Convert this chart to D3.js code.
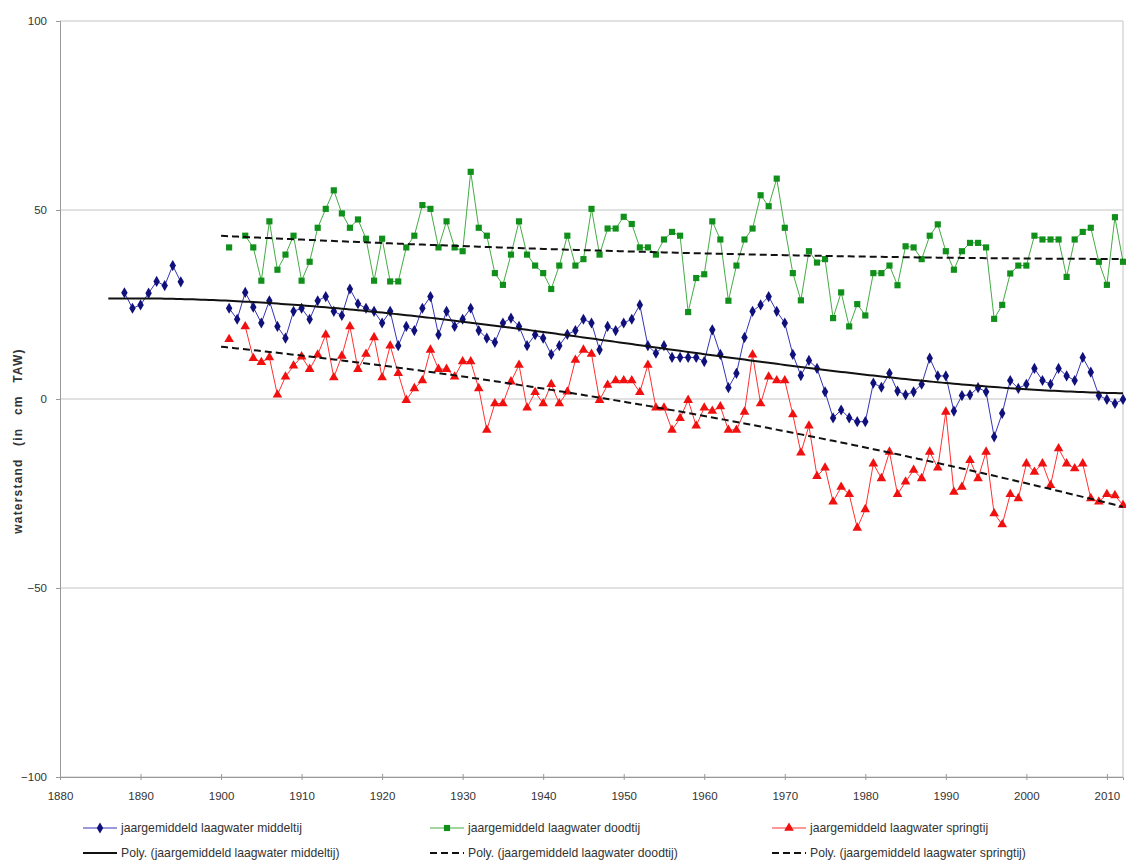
<!DOCTYPE html>
<meta charset="utf-8">
<style>
body { margin: 0; background: #fff; }
text { font-family: Arial, "Liberation Sans", sans-serif; fill: #333; }
</style>
<svg width="1126" height="864"></svg>
<script src="https://d3js.org/d3.v7.min.js"></script>
<script>

// jaargemiddeld laagwater middeltij, first short run 1888-1895
var middeltijEarlyYears = d3.range(1888, 1896),
    middeltijEarly = [28.1, 24.0, 24.9, 28.0, 31.1, 30.0, 35.3, 31.0];

// main record 1901-2012 (null = no value)
var years = d3.range(1901, 2013);

var middeltij = [
  24.0, 21.1, 28.2, 24.3, 20.1, 26.0, 19.2, 16.1, 23.2, 24.0,
  21.1, 26.0, 27.1, 23.2, 22.1, 29.1, 25.2, 24.0, 23.2, 20.1,
  23.2, 14.1, 19.2, 18.1, 24.0, 27.1, 17.0, 23.2, 19.2, 21.1,
  24.0, 18.1, 16.1, 15.0, 20.1, 21.4, 19.2, 14.1, 17.0, 16.1,
  11.8, 14.1, 17.1, 18.1, 21.1, 20.1, 13.0, 19.2, 18.1, 20.1,
  21.1, 24.9, 14.1, 12.1, 14.1, 11.0, 11.0, 11.0, 11.0, 9.9,
  18.3, 11.8, 3.0, 6.8, 16.3, 23.2, 24.9, 27.1, 23.2, 20.1,
  11.8, 6.2, 10.2, 8.1, 1.9, -5.0, -2.9, -5.0, -6.0, -6.0,
  4.2, 3.1, 6.8, 2.1, 1.1, 1.9, 3.9, 10.8, 6.1, 6.1,
  -3.2, 0.9, 1.1, 3.0, 1.9, -10.0, -3.8, 4.9, 2.8, 3.9,
  8.1, 4.9, 3.9, 8.1, 6.1, 4.9, 11.0, 7.1, 0.9, -0.1,
  -1.2, -0.1
];

var doodtij = [
  40.1, null, 43.2, 40.1, 31.3, 47.0, 34.2, 38.2, 43.2, 31.3,
  36.3, 45.3, 50.3, 55.2, 49.1, 45.3, 47.5, 42.4, 31.3, 42.4,
  31.1, 31.1, 40.1, 43.2, 51.3, 50.3, 40.1, 47.0, 40.1, 39.1,
  60.1, 45.3, 43.2, 33.3, 30.2, 38.2, 47.0, 38.2, 35.3, 33.3,
  29.1, 35.3, 43.2, 35.3, 37.0, 50.3, 38.2, 45.1, 45.1, 48.2,
  46.3, 40.1, 40.1, 38.2, 42.2, 44.2, 43.2, 23.0, 32.0, 33.0,
  47.0, 42.2, 26.0, 35.3, 42.2, 45.1, 53.9, 51.0, 58.3, 45.3,
  33.3, 26.1, 39.1, 36.1, 37.0, 21.4, 28.2, 19.2, 25.1, 22.1,
  33.3, 33.3, 35.3, 30.1, 40.4, 40.1, 37.0, 43.2, 46.2, 39.1,
  34.2, 39.1, 41.3, 41.3, 40.1, 21.2, 24.9, 33.2, 35.3, 35.3,
  43.2, 42.2, 42.2, 42.2, 32.3, 42.2, 44.2, 45.3, 36.3, 30.2,
  48.1, 36.3
];

var springtij = [
  15.8, null, 19.2, 10.8, 9.7, 11.0, 1.1, 5.9, 8.8, 11.2,
  7.9, 11.7, 17.0, 5.7, 11.4, 19.2, 7.9, 11.9, 16.3, 5.7,
  14.1, 6.8, -0.3, 2.8, 4.9, 13.0, 7.9, 7.9, 5.9, 9.9,
  9.9, 2.8, -8.2, -1.2, -1.2, 4.6, 9.0, -2.3, 1.8, -1.2,
  3.9, -1.2, 1.9, 10.3, 13.0, 11.9, -0.3, 3.7, 4.9, 4.9,
  4.9, 1.8, 9.0, -2.3, -2.3, -8.2, -5.1, -0.3, -7.1, -2.3,
  -3.2, -2.0, -8.2, -8.2, -3.4, 11.7, -1.2, 5.9, 4.9, 4.9,
  -4.1, -14.2, -7.1, -20.4, -18.2, -27.2, -23.3, -25.2, -34.1, -29.2,
  -17.1, -21.0, -14.0, -25.2, -21.9, -18.8, -21.0, -14.0, -18.2, -3.4,
  -24.6, -23.3, -16.2, -21.0, -14.0, -30.3, -33.2, -25.2, -26.3, -17.1,
  -19.3, -17.1, -22.8, -13.1, -17.1, -18.4, -17.1, -26.3, -27.2, -25.2,
  -25.5, -28.1
];

var xTicks = d3.range(1880, 2011, 10),
    yTicks = [-100, -50, 0, 50, 100];

var seriesNames = [
  "jaargemiddeld laagwater middeltij",
  "jaargemiddeld laagwater doodtij",
  "jaargemiddeld laagwater springtij"
];

var svg = d3.select("svg"),
    plotLeft = 60, plotRight = 1123, plotTop = 21, plotBottom = 777;

var x = d3.scaleLinear().domain([1880, 2012]).range([plotLeft, plotRight]),
    y = d3.scaleLinear().domain([-100, 100]).range([plotBottom, plotTop]);

// gridlines + plot frame
svg.append("g").selectAll("line")
  .data(yTicks)
  .join("line")
    .attr("x1", plotLeft).attr("x2", plotRight)
    .attr("y1", function(d) { return y(d); }).attr("y2", function(d) { return y(d); })
    .attr("stroke", "#c4c4c4");

svg.append("line")
    .attr("x1", plotRight).attr("x2", plotRight).attr("y1", plotTop).attr("y2", plotBottom)
    .attr("stroke", "#c4c4c4");

// y axis
var yAxis = svg.append("g")
    .attr("transform", "translate(" + plotLeft + ",0)")
    .call(d3.axisLeft(y).tickValues(yTicks).tickSize(4).tickPadding(9));
yAxis.select(".domain").attr("stroke", "#999");
yAxis.selectAll(".tick line").attr("stroke", "#999");
yAxis.selectAll("text").attr("font-size", 11.5).attr("fill", "#333").attr("font-family", null);

// x axis
var xAxis = svg.append("g")
    .attr("transform", "translate(0," + plotBottom + ")")
    .call(d3.axisBottom(x).tickValues(xTicks).tickFormat(d3.format("d")).tickSize(3).tickPadding(12));
xAxis.select(".domain").attr("stroke", "#999");
xAxis.selectAll(".tick line").attr("stroke", "#999").attr("y1", -3);
xAxis.selectAll("text").attr("font-size", 11.5).attr("fill", "#333").attr("font-family", null);

svg.append("text")
    .attr("transform", "translate(22,441) rotate(-90)")
    .attr("text-anchor", "middle")
    .attr("font-size", 12)
    .attr("font-weight", "bold")
    .attr("letter-spacing", 1.2)
    .attr("word-spacing", 8)
    .text("waterstand (in cm TAW)");

// least squares polynomial for the "Poly." trendlines
function polyfit(points, order) {
  var n = order + 1, A = [], b = [], i, j, k;
  for (i = 0; i < n; ++i) { A.push(new Array(n).fill(0)); b.push(0); }
  points.forEach(function(p) {
    var t = (p[0] - 1950) / 50, pw = [1];
    for (k = 1; k < 2 * n; ++k) pw[k] = pw[k - 1] * t;
    for (i = 0; i < n; ++i) {
      for (j = 0; j < n; ++j) A[i][j] += pw[i + j];
      b[i] += pw[i] * p[1];
    }
  });
  for (i = 0; i < n; ++i) {
    var m = i;
    for (k = i + 1; k < n; ++k) if (Math.abs(A[k][i]) > Math.abs(A[m][i])) m = k;
    var tmp = A[i]; A[i] = A[m]; A[m] = tmp;
    tmp = b[i]; b[i] = b[m]; b[m] = tmp;
    for (k = i + 1; k < n; ++k) {
      var f = A[k][i] / A[i][i];
      for (j = i; j < n; ++j) A[k][j] -= f * A[i][j];
      b[k] -= f * b[i];
    }
  }
  var c = new Array(n);
  for (i = n - 1; i >= 0; --i) {
    var s = b[i];
    for (j = i + 1; j < n; ++j) s -= A[i][j] * c[j];
    c[i] = s / A[i][i];
  }
  return function(year) {
    var t = (year - 1950) / 50, v = 0;
    for (var k = n - 1; k >= 0; --k) v = v * t + c[k];
    return v;
  };
}

function pairs(xs, vs) {
  return xs.map(function(d, i) { return [d, vs[i]]; });
}

var middelPts = pairs(middeltijEarlyYears, middeltijEarly).concat(pairs(years, middeltij)),
    doodPts = pairs(years, doodtij),
    springPts = pairs(years, springtij);

var series = [
  {points: middelPts, line: "#3434b8", mark: "#10107a", symbol: d3.symbolDiamond, size: 36, trendStart: 1886, order: 3, dash: null},
  {points: doodPts, line: "#44ac44", mark: "#10901a", symbol: d3.symbolSquare, size: 38, trendStart: 1900, order: 2, dash: "7,4"},
  {points: springPts, line: "#ff3030", mark: "#f01010", symbol: d3.symbolTriangle, size: 40, trendStart: 1900, order: 2, dash: "7,4"}
];

var line = d3.line()
    .defined(function(d) { return d[1] != null; })
    .x(function(d) { return x(d[0]); })
    .y(function(d) { return y(d[1]); });

// data lines (the early middeltij run is not joined to 1901)
series.forEach(function(s, si) {
  var runs = si === 0 ? [s.points.slice(0, middeltijEarly.length), s.points.slice(middeltijEarly.length)] : [s.points];
  runs.forEach(function(r) {
    svg.append("path")
        .datum(r)
        .attr("fill", "none")
        .attr("stroke", s.line)
        .attr("stroke-width", 1)
        .attr("d", line);
  });
});

// markers
series.forEach(function(s) {
  svg.append("g").selectAll("path")
    .data(s.points.filter(function(d) { return d[1] != null; }))
    .join("path")
      .attr("transform", function(d) { return "translate(" + x(d[0]) + "," + y(d[1]) + ")"; })
      .attr("d", d3.symbol(s.symbol, s.size))
      .attr("fill", s.mark);
});

// trendlines
series.forEach(function(s) {
  var fit = polyfit(s.points.filter(function(d) { return d[1] != null; }), s.order),
      ts = d3.range(s.trendStart, 2012.01, 0.5).map(function(t) { return [t, fit(t)]; });
  svg.append("path")
      .datum(ts)
      .attr("fill", "none")
      .attr("stroke", "#111")
      .attr("stroke-width", 2)
      .attr("stroke-dasharray", s.dash)
      .attr("d", line);
});

// legend
var legendCols = [83, 430, 772],
    legendRows = [828, 853];

series.forEach(function(s, i) {
  var lx = legendCols[i];
  var g = svg.append("g");
  g.append("line")
      .attr("x1", lx).attr("x2", lx + 34)
      .attr("y1", legendRows[0]).attr("y2", legendRows[0])
      .attr("stroke", s.line);
  g.append("path")
      .attr("transform", "translate(" + (lx + 17) + "," + legendRows[0] + ")")
      .attr("d", d3.symbol(s.symbol, s.size))
      .attr("fill", s.mark);
  g.append("text")
      .attr("x", lx + 38).attr("y", legendRows[0] + 4)
      .attr("font-size", 12.2)
      .text(seriesNames[i]);

  g.append("line")
      .attr("x1", lx).attr("x2", lx + 34)
      .attr("y1", legendRows[1]).attr("y2", legendRows[1])
      .attr("stroke", "#111")
      .attr("stroke-width", 2)
      .attr("stroke-dasharray", s.dash);
  g.append("text")
      .attr("x", lx + 38).attr("y", legendRows[1] + 4)
      .attr("font-size", 12.2)
      .text("Poly. (" + seriesNames[i] + ")");
});

</script>
